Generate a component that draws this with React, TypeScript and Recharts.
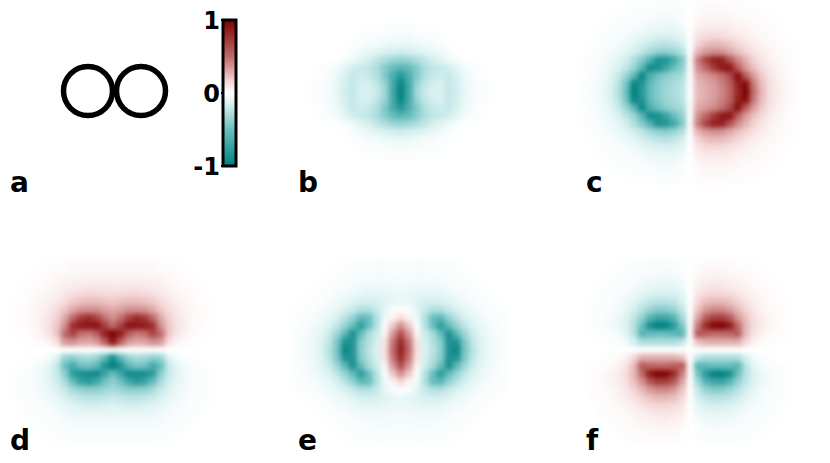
import { ScatterChart, Scatter, XAxis, YAxis, ReferenceArea } from "recharts";

// colormap stops: value -> rgb
const CMAP_VALUES = [-1, -0.5, -0.15, 0, 0.15, 0.5, 1];
const CMAP_COLORS = [
  [0, 128, 128],
  [105, 190, 190],
  [215, 240, 240],
  [255, 255, 255],
  [245, 215, 215],
  [192, 105, 105],
  [128, 0, 0],
];
const BAR_TICKS = [-1, 0, 1];
const PANEL_LETTERS = ["a", "b", "c", "d", "e", "f"];
const OUTLINE_CENTERS = [-1, 1];

// one quadrant per panel, percent of full scale, rows go away from the centre, cols too
const panelB = [
  [-100, -68, -32, -19, -14, -14, -22, -17, -9, -4, -2, -1],
  [-96, -66, -35, -22, -16, -15, -21, -16, -8, -4, -2, -1],
  [-82, -64, -42, -27, -20, -18, -20, -14, -7, -3, -1],
  [-58, -52, -40, -28, -22, -20, -17, -10, -4, -2, -1],
  [-35, -33, -28, -22, -16, -11, -6, -3, -1],
  [-17, -16, -14, -11, -8, -6, -3, -1],
  [-8, -7, -6, -5, -4, -2, -1],
  [-4, -4, -3, -2, -2, -1],
  [-2, -2, -1, -1, -1],
];
const panelC = [
  [0, 24, 28, 33, 40, 52, 80, 100, 48, 25, 12, 7, 4, 2],
  [0, 25, 30, 34, 42, 54, 85, 95, 44, 23, 12, 6, 3, 2],
  [0, 30, 34, 40, 48, 64, 95, 55, 34, 19, 10, 6, 3, 1],
  [0, 38, 52, 72, 88, 92, 55, 34, 22, 13, 8, 4, 2, 1],
  [0, 44, 68, 85, 85, 60, 40, 27, 16, 10, 6, 3, 2, 1],
  [0, 26, 34, 38, 36, 30, 22, 16, 11, 7, 4, 2, 1, 1],
  [0, 16, 22, 24, 23, 19, 15, 10, 7, 4, 3, 2, 1],
  [0, 10, 13, 14, 13, 11, 9, 6, 4, 3, 2, 1],
  [0, 6, 8, 8, 8, 7, 5, 4, 3, 2, 1, 1],
  [0, 3, 5, 5, 5, 4, 3, 2, 2, 1, 1],
  [0, 2, 3, 3, 3, 2, 2, 1, 1, 1],
  [0, 1, 2, 2, 2, 1, 1, 1],
];
const panelD = [
  [0],
  [90, 55, 35, 30, 32, 38, 35, 12, 4, 2, 1],
  [100, 85, 55, 45, 48, 68, 50, 20, 10, 5, 2, 1],
  [50, 70, 92, 90, 88, 78, 38, 20, 11, 6, 3, 2, 1],
  [38, 48, 68, 80, 72, 50, 30, 17, 10, 6, 3, 2, 1],
  [30, 33, 38, 38, 36, 30, 20, 13, 8, 5, 3, 2, 1],
  [20, 22, 24, 24, 22, 19, 14, 9, 6, 4, 2, 1, 1],
  [13, 14, 15, 15, 14, 12, 9, 6, 4, 3, 2, 1],
  [8, 9, 9, 9, 8, 7, 6, 4, 3, 2, 1, 1],
  [5, 5, 5, 5, 5, 4, 4, 3, 2, 1, 1],
  [3, 3, 3, 3, 3, 3, 2, 2, 1, 1],
  [2, 2, 2, 2, 2, 2, 1, 1, 1],
];
const panelE = [
  [85, 50, 12, -14, -24, -38, -85, -95, -45, -25, -13, -7, -4, -2],
  [80, 46, 10, -15, -26, -40, -85, -85, -42, -22, -12, -7, -4, -2],
  [62, 35, 4, -18, -30, -52, -88, -55, -33, -18, -10, -6, -3, -2],
  [38, 20, -2, -25, -50, -78, -52, -35, -22, -13, -8, -5, -3, -1],
  [14, 4, -6, -26, -50, -55, -36, -24, -15, -9, -6, -3, -2, -1],
  [0, -3, -10, -20, -26, -26, -20, -14, -9, -6, -4, -2, -1, -1],
  [-7, -9, -12, -15, -16, -15, -12, -8, -6, -4, -2, -1, -1],
  [-7, -8, -9, -10, -10, -9, -7, -5, -4, -2, -1, -1],
  [-5, -5, -6, -6, -6, -5, -4, -3, -2, -1, -1],
  [-3, -4, -4, -4, -4, -3, -3, -2, -1, -1],
  [-2, -2, -3, -3, -2, -2, -2, -1, -1],
  [-1, -1, -2, -2, -1, -1, -1, -1],
];
const panelF = [
  [0],
  [0, 22, 28, 28, 28, 28, 28, 15, 5, 2, 1],
  [0, 58, 55, 50, 50, 52, 58, 24, 10, 5, 2, 1, 1],
  [0, 45, 80, 98, 100, 88, 50, 25, 13, 7, 4, 2, 1],
  [0, 32, 58, 70, 70, 58, 36, 22, 12, 7, 4, 2, 1],
  [0, 22, 35, 40, 40, 34, 25, 16, 9, 5, 3, 2, 1],
  [0, 15, 23, 25, 25, 22, 17, 11, 7, 4, 2, 1, 1],
  [0, 10, 14, 15, 15, 13, 10, 7, 4, 3, 2, 1],
  [0, 6, 9, 10, 9, 8, 6, 4, 3, 2, 1, 1],
  [0, 4, 5, 6, 6, 5, 4, 3, 2, 1, 1],
  [0, 2, 3, 4, 3, 3, 2, 2, 1, 1],
  [0, 1, 2, 2, 2, 2, 1, 1, 1],
];

const CELL = 8;
const COLS = 13;
const ROWS = 11;
const FONT = "'DejaVu Sans', sans-serif";

function toColor(v: number) {
  let i = 0;
  while (i < CMAP_VALUES.length - 2 && v > CMAP_VALUES[i + 1]) i++;
  const t = (v - CMAP_VALUES[i]) / (CMAP_VALUES[i + 1] - CMAP_VALUES[i]);
  const rgb = CMAP_COLORS[i].map((c, k) => Math.round(c + (CMAP_COLORS[i + 1][k] - c) * t));
  return `rgb(${rgb[0]},${rgb[1]},${rgb[2]})`;
}

// the fields are mirror images about both axes, so only one quadrant is listed
function buildCells(quadrant: number[][], leftSign: number, belowSign: number) {
  const cells: { x: number; y: number; v: number }[] = [];
  for (let r = -ROWS; r <= ROWS; r++) {
    for (let c = -COLS; c <= COLS; c++) {
      const raw = quadrant[Math.abs(r)]?.[Math.abs(c)] ?? 0;
      if (raw === 0) continue;
      const v = (raw / 100) * (c < 0 ? leftSign : 1) * (r > 0 ? belowSign : 1);
      cells.push({ x: c, y: r, v });
    }
  }
  return cells;
}

function HeatCell(props: any) {
  const { cx, cy, payload } = props;
  return (
    <rect
      x={cx - CELL / 2 - 0.25}
      y={cy - CELL / 2 - 0.25}
      width={CELL + 0.5}
      height={CELL + 0.5}
      fill={toColor(payload.v)}
    />
  );
}

function HeatPanel({ quadrant, cx, cy, leftSign, belowSign }: any) {
  const width = (COLS * 2 + 1) * CELL;
  const height = (ROWS * 2 + 1) * CELL;
  return (
    <div
      style={{
        position: "absolute",
        left: cx - width / 2,
        top: cy - height / 2,
        filter: "blur(2.4px)",
      }}
    >
      <ScatterChart width={width} height={height} margin={{ top: 0, right: 0, bottom: 0, left: 0 }}>
        <XAxis type="number" dataKey="x" domain={[-COLS - 0.5, COLS + 0.5]} hide />
        <YAxis type="number" dataKey="y" domain={[-ROWS - 0.5, ROWS + 0.5]} reversed hide />
        <Scatter
          data={buildCells(quadrant, leftSign, belowSign)}
          shape={HeatCell}
          isAnimationActive={false}
        />
      </ScatterChart>
    </div>
  );
}

function OutlineCircle(props: any) {
  return <circle cx={props.cx} cy={props.cy} r={24.5} fill="none" stroke="#000" strokeWidth={5.5} />;
}

function Outline() {
  return (
    <div style={{ position: "absolute", left: 35, top: 51 }}>
      <ScatterChart width={159} height={80} margin={{ top: 0, right: 0, bottom: 0, left: 0 }}>
        <XAxis type="number" dataKey="x" domain={[-3, 3]} hide />
        <YAxis type="number" dataKey="y" domain={[-1, 1]} hide />
        <Scatter
          data={OUTLINE_CENTERS.map((x) => ({ x, y: 0 }))}
          shape={OutlineCircle}
          isAnimationActive={false}
        />
      </ScatterChart>
    </div>
  );
}

function ColorBar() {
  return (
    <div style={{ position: "absolute", left: 190, top: 8 }}>
      <ScatterChart width={50} height={172} margin={{ top: 12, right: 4, bottom: 14, left: 0 }}>
        <defs>
          <linearGradient id="barFill" x1="0" y1="1" x2="0" y2="0">
            {CMAP_VALUES.map((v, i) => (
              <stop
                key={v}
                offset={`${((v + 1) / 2) * 100}%`}
                stopColor={`rgb(${CMAP_COLORS[i].join(",")})`}
              />
            ))}
          </linearGradient>
        </defs>
        <XAxis type="number" dataKey="x" domain={[0, 1]} hide />
        <YAxis
          type="number"
          dataKey="y"
          domain={[-1, 1]}
          ticks={BAR_TICKS}
          width={33}
          axisLine={false}
          tickLine={{ stroke: "#000", strokeWidth: 2 }}
          tickSize={2}
          tickMargin={1}
          interval={0}
          tick={{ fontFamily: FONT, fontWeight: 700, fontSize: 24, fill: "#000" }}
        />
        <Scatter
          data={BAR_TICKS.map((y) => ({ x: 0.5, y }))}
          shape={() => <g />}
          isAnimationActive={false}
        />
        <ReferenceArea x1={0} x2={1} y1={-1} y2={1} fill="url(#barFill)" fillOpacity={1} stroke="#000" strokeWidth={3} />
      </ScatterChart>
    </div>
  );
}

export default function App() {
  const letterX = [10, 298, 586];
  const letterY = [167, 425];
  return (
    <div style={{ position: "absolute", left: 0, top: 0, width: 830, height: 463, background: "#fff", overflow: "hidden" }}>
      <HeatPanel quadrant={panelB} cx={401} cy={92} leftSign={1} belowSign={1} />
      <HeatPanel quadrant={panelC} cx={690} cy={92} leftSign={-1} belowSign={1} />
      <HeatPanel quadrant={panelD} cx={113} cy={350} leftSign={1} belowSign={-1} />
      <HeatPanel quadrant={panelE} cx={401} cy={350} leftSign={1} belowSign={1} />
      <HeatPanel quadrant={panelF} cx={690} cy={350} leftSign={-1} belowSign={-1} />
      <Outline />
      <ColorBar />
      {PANEL_LETTERS.map((l, i) => (
        <div
          key={l}
          style={{
            position: "absolute",
            left: letterX[i % 3],
            top: letterY[Math.floor(i / 3)],
            fontFamily: FONT,
            fontWeight: 700,
            fontSize: 28,
            lineHeight: "32px",
            color: "#000",
          }}
        >
          {l}
        </div>
      ))}
    </div>
  );
}
